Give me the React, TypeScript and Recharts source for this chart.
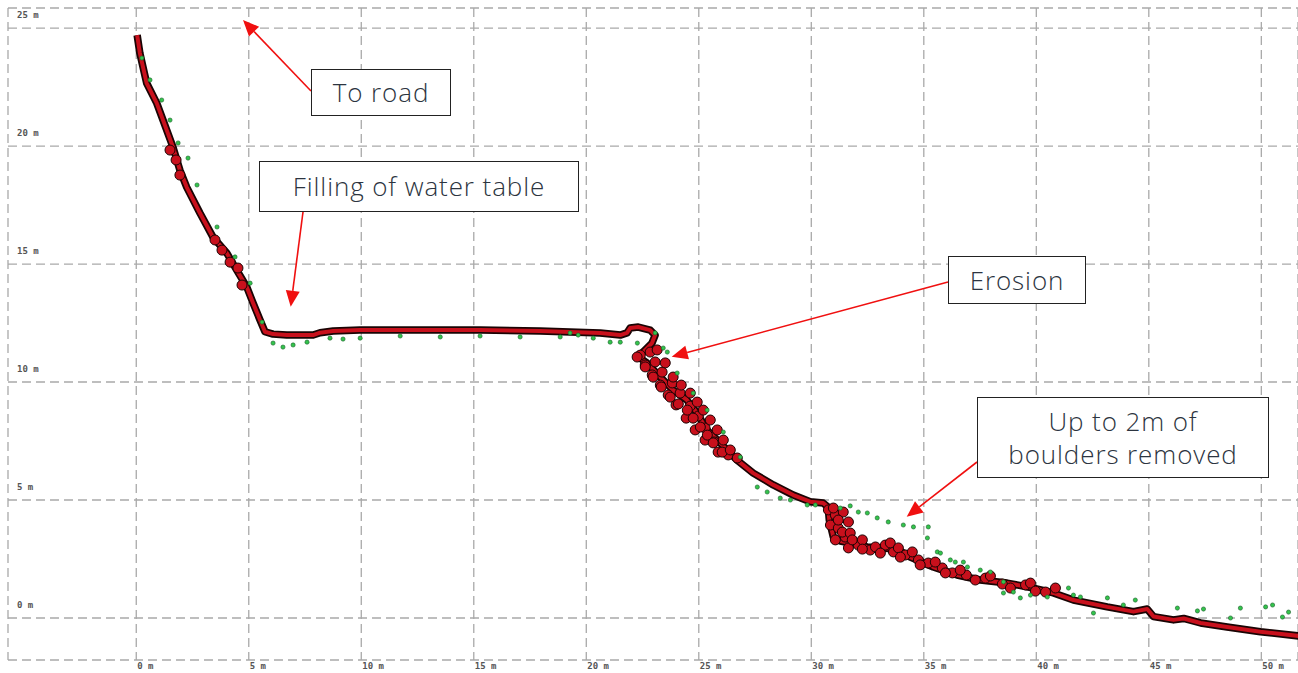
import React from 'react';
import {
  ComposedChart,
  Line,
  Scatter,
  XAxis,
  YAxis,
  CartesianGrid,
} from 'recharts';

// distance along profile (m) and elevation (m)
const profileX = [
  0.04, 0.16, 0.46, 0.91, 1.19, 1.63, 1.94, 2.24, 2.83, 3.41, 4.02, 4.46, 4.91, 5.19, 5.5, 5.72,
  6.08, 6.69, 7.86, 8.17, 8.75, 9.95, 12.61, 15.28, 17.95, 20.62, 21.51, 21.81, 21.95, 22.31,
  22.84, 23.06, 22.92, 22.62, 22.31, 22.69, 23.29, 23.86, 24.47, 24.92, 25.36, 25.95, 26.7,
  27.42, 28.31, 29.2, 29.95, 30.53, 30.75, 30.8, 30.98, 31.29, 31.73, 32.48, 33.07, 33.82,
  34.4, 35.42, 36.48, 37.51, 38.7, 39.87, 40.76, 41.65, 43.15, 44.32, 44.93, 45.21, 46.1,
  46.55, 47.3, 48.48, 49.96, 51.65,
];
const profileY = [
  24.7, 23.94, 22.67, 21.82, 21.1, 19.96, 18.98, 18.26, 17.16, 16.14, 15.47, 14.75, 14.03, 13.35,
  12.63, 12.13, 12.03, 11.99, 11.99, 12.09, 12.16, 12.2, 12.2, 12.2, 12.16, 12.08, 11.99, 12.08,
  12.29, 12.33, 12.2, 11.99, 11.65, 11.36, 11.07, 10.81, 10.21, 9.66, 9.24, 8.69, 7.97, 7.42,
  6.69, 6.14, 5.64, 5.21, 4.93, 4.87, 4.7, 4.15, 3.43, 3.26, 3.18, 3.01, 2.97, 2.92, 2.58, 2.16,
  1.82, 1.61, 1.48, 1.27, 1.06, 0.76, 0.47, 0.27, 0.38, 0.06, -0.08, -0.02, -0.21, -0.38, -0.58,
  -0.76,
];

// rough (thick) parts of the scanned surface
const roughX = [
  1.5, 1.77, 1.94, 3.5, 3.81, 4.17, 4.52, 4.7,
  22.4, 22.84, 22.62, 23.06, 22.93, 23.37, 23.29, 23.82, 23.64, 24.17, 23.99, 24.62, 24.44,
  24.98, 24.84, 25.28, 25.28, 25.68, 25.86, 26.31,
  22.26, 22.62, 22.97, 23.33, 23.73, 24.09, 24.49, 24.75, 25.07, 25.38, 25.64, 26.04,
  23.15, 23.51, 23.86, 24.22, 24.62, 24.93, 25.2, 25.51, 25.82, 26.09, 26.4, 26.71,
  30.76, 31.07, 30.85, 31.2, 31.07, 31.51, 31.65, 32.09, 32.62, 33.29, 33.65, 34.18, 34.76,
  35.2, 35.82, 36.27, 36.89, 37.74, 38.49, 39.52, 40.41,
  30.98, 31.42, 31.2, 31.65, 31.38, 31.73, 31.82, 32.27, 32.27, 32.85, 33.07, 33.51, 33.87,
  33.96, 34.49, 34.84, 35.51, 35.96, 36.62, 37.29, 37.96, 38.85, 39.74, 39.96, 40.85,
];
const roughY = [
  19.83, 19.41, 18.77, 16.02, 15.59, 15.08, 14.83, 14.11,
  11.14, 11.27, 10.72, 10.85, 10.3, 10.42, 9.87, 9.96, 9.45, 9.53, 9.03, 8.98, 8.47, 8.56,
  7.97, 8.05, 7.54, 7.46, 7.03, 6.91,
  11.06, 10.64, 10.21, 9.79, 9.36, 9.07, 8.81, 8.47, 8.09, 7.75, 7.42, 7.03,
  11.36, 10.81, 10.21, 9.87, 9.53, 9.15, 8.81, 8.39, 7.97, 7.54, 7.12, 6.78,
  4.58, 4.36, 3.94, 3.81, 3.31, 3.43, 2.97, 3.09, 2.88, 3.09, 2.8, 2.67, 2.46, 2.33, 2.12,
  1.91, 1.82, 1.69, 1.44, 1.4, 1.1,
  4.66, 4.49, 4.15, 4.07, 3.64, 3.6, 3.31, 3.31, 2.92, 3.01, 2.75, 3.18, 2.97, 2.58, 2.8,
  2.25, 2.37, 1.91, 2.03, 1.61, 1.78, 1.27, 1.48, 1.14, 1.27,
];

// earlier survey points (green)
const earlierX = [
  0.25, 0.61, 1.13, 1.5, 1.86, 2.3, 2.7, 3.59, 4.39, 5.06, 5.59,
  6.08, 6.52, 6.97, 7.59, 8.61, 9.19, 9.95, 11.73, 13.51, 15.28, 17.06, 18.84, 19.28, 19.64,
  20.31, 21.06, 21.51, 22.27, 23.06,
  23.42, 23.6, 24.04, 24.75, 25.37, 26.09, 26.84, 27.6, 28.04, 28.62, 29.07, 29.82,
  30.18, 31.29, 31.73, 32.09, 32.49, 32.93, 33.42, 34.09, 34.54, 35.2, 35.16, 35.6, 35.74,
  36.18, 36.4, 36.76, 36.94, 37.51, 37.96, 38.54, 38.54, 38.98, 39.29, 39.74, 40.49,
  41.43, 41.65, 41.96, 42.54, 43.16, 43.87, 44.4, 46.27, 47.16, 47.43, 48.63, 49.07, 50.19,
  50.5, 50.94, 51.21,
];
const earlierY = [
  23.73, 22.8, 21.95, 21.1, 20.13, 19.49, 18.35, 16.57, 15.3, 14.19, 12.54,
  11.65, 11.48, 11.57, 11.69, 11.86, 11.82, 11.86, 11.95, 11.91, 11.95, 11.91, 11.91, 12.08,
  11.99, 11.86, 11.69, 11.69, 11.65, 12.08,
  11.44, 11.27, 10.38, 9.53, 8.81, 7.88, 6.82, 5.55, 5.34, 5.08, 5.0, 4.79,
  4.79, 4.66, 4.75, 4.49, 4.45, 4.24, 4.07, 3.94, 3.86, 3.86, 3.39, 2.8, 2.75, 2.46, 2.37,
  2.37, 2.16, 2.03, 1.95, 1.53, 1.06, 1.1, 0.85, 0.97, 0.89,
  1.27, 0.97, 0.89, 0.21, 0.85, 0.55, 0.76, 0.42, 0.3, 0.38, 0.0, 0.42, 0.47, 0.55, 0.04,
  0.25,
];

const xTicks = [0, 5, 10, 15, 20, 25, 30, 35, 40, 45, 50];
const yTicks = [0, 5, 10, 15, 20, 25];

const toPoints = (xs: number[], ys: number[]) => xs.map((x, i) => ({ x, y: ys[i] }));
const profile = toPoints(profileX, profileY);
const rough = toPoints(roughX, roughY);
const earlier = toPoints(earlierX, earlierY);

const tickFont = { fontFamily: 'DejaVu Sans Mono', fontSize: 9, fontWeight: 700, fill: '#555' };

const XTick = ({ x, payload }: any) => (
  <text x={x + 1} y={669} {...tickFont}>{`${payload.value} m`}</text>
);

const YTick = ({ y, payload }: any) => (
  <text x={17} y={y - 10} {...tickFont}>{`${payload.value} m`}</text>
);

const RedDot = (p: any) => (
  <circle cx={p.cx} cy={p.cy} r={5} fill="#c8101c" stroke="#1a0404" strokeWidth={1} />
);
const GreenDot = (p: any) => (
  <circle cx={p.cx} cy={p.cy} r={2.1} fill="#33c44c" stroke="#1d5e2c" strokeWidth={0.6} />
);

// callout boxes and arrows laid over the chart
const notes = [
  { lines: ['To road'], left: 311, top: 69, width: 140, height: 47, from: [311, 91], to: [243, 20] },
  { lines: ['Filling of water table'], left: 259, top: 161, width: 320, height: 51, from: [303, 212], to: [290.7, 306.7] },
  { lines: ['Erosion'], left: 948, top: 256, width: 138, height: 48, from: [948, 282], to: [671.7, 356.7] },
  { lines: ['Up to 2m of', 'boulders removed'], left: 977, top: 397, width: 292, height: 81, from: [977, 462], to: [906.7, 516.7] },
];

const Arrow = ({ from, to }: { from: number[]; to: number[] }) => {
  const [x1, y1] = from;
  const [x2, y2] = to;
  const a = Math.atan2(y2 - y1, x2 - x1);
  const len = 16;
  const half = 7;
  const bx = x2 - len * Math.cos(a);
  const by = y2 - len * Math.sin(a);
  const px = -Math.sin(a) * half;
  const py = Math.cos(a) * half;
  return (
    <g>
      <line x1={x1} y1={y1} x2={bx} y2={by} stroke="#f01010" strokeWidth={1.6} />
      <polygon points={`${x2},${y2} ${bx + px},${by + py} ${bx - px},${by - py}`} fill="#f01010" />
    </g>
  );
};

export default function App() {
  return (
    <div style={{ position: 'absolute', left: 0, top: 0, width: 1298, height: 673, background: '#fff' }}>
      <ComposedChart width={1298} height={673} margin={{ top: 8, right: 0, left: 0, bottom: 0 }}>
        <CartesianGrid stroke="#a9a9a9" strokeWidth={1.3} strokeDasharray="9 5" />
        <XAxis
          type="number"
          dataKey="x"
          domain={[-5.7, 51.63]}
          ticks={xTicks}
          allowDataOverflow
          height={13}
          axisLine={false}
          tickLine={false}
          tick={<XTick />}
        />
        <YAxis
          type="number"
          dataKey="y"
          domain={[-1.78, 25.85]}
          ticks={yTicks}
          allowDataOverflow
          width={8}
          axisLine={false}
          tickLine={false}
          tick={<YTick />}
        />
        <Line data={profile} dataKey="y" stroke="#1a0404" strokeWidth={7.5} dot={false} activeDot={false} isAnimationActive={false} strokeLinejoin="round" />
        <Scatter data={rough} dataKey="y" shape={RedDot} isAnimationActive={false} />
        <Line data={profile} dataKey="y" stroke="#c8101c" strokeWidth={4} dot={false} activeDot={false} isAnimationActive={false} strokeLinejoin="round" />
        <Scatter data={earlier} dataKey="y" shape={GreenDot} isAnimationActive={false} />
      </ComposedChart>

      <svg width={1298} height={673} style={{ position: 'absolute', left: 0, top: 0, pointerEvents: 'none' }}>
        {notes.map((n, i) => (
          <Arrow key={i} from={n.from} to={n.to} />
        ))}
      </svg>

      {notes.map((n, i) => (
        <div
          key={i}
          style={{
            position: 'absolute',
            left: n.left,
            top: n.top,
            width: n.width,
            height: n.height,
            boxSizing: 'border-box',
            border: '1.5px solid #222',
            background: '#fff',
            display: 'flex',
            flexDirection: 'column',
            justifyContent: 'center',
            alignItems: 'center',
            fontFamily: 'Open Sans',
            fontWeight: 300,
            fontSize: 26,
            letterSpacing: 0.9,
            lineHeight: '33px',
            color: '#2c3440',
          }}
        >
          {n.lines.map((l, j) => (
            <div key={j}>{l}</div>
          ))}
        </div>
      ))}
    </div>
  );
}
